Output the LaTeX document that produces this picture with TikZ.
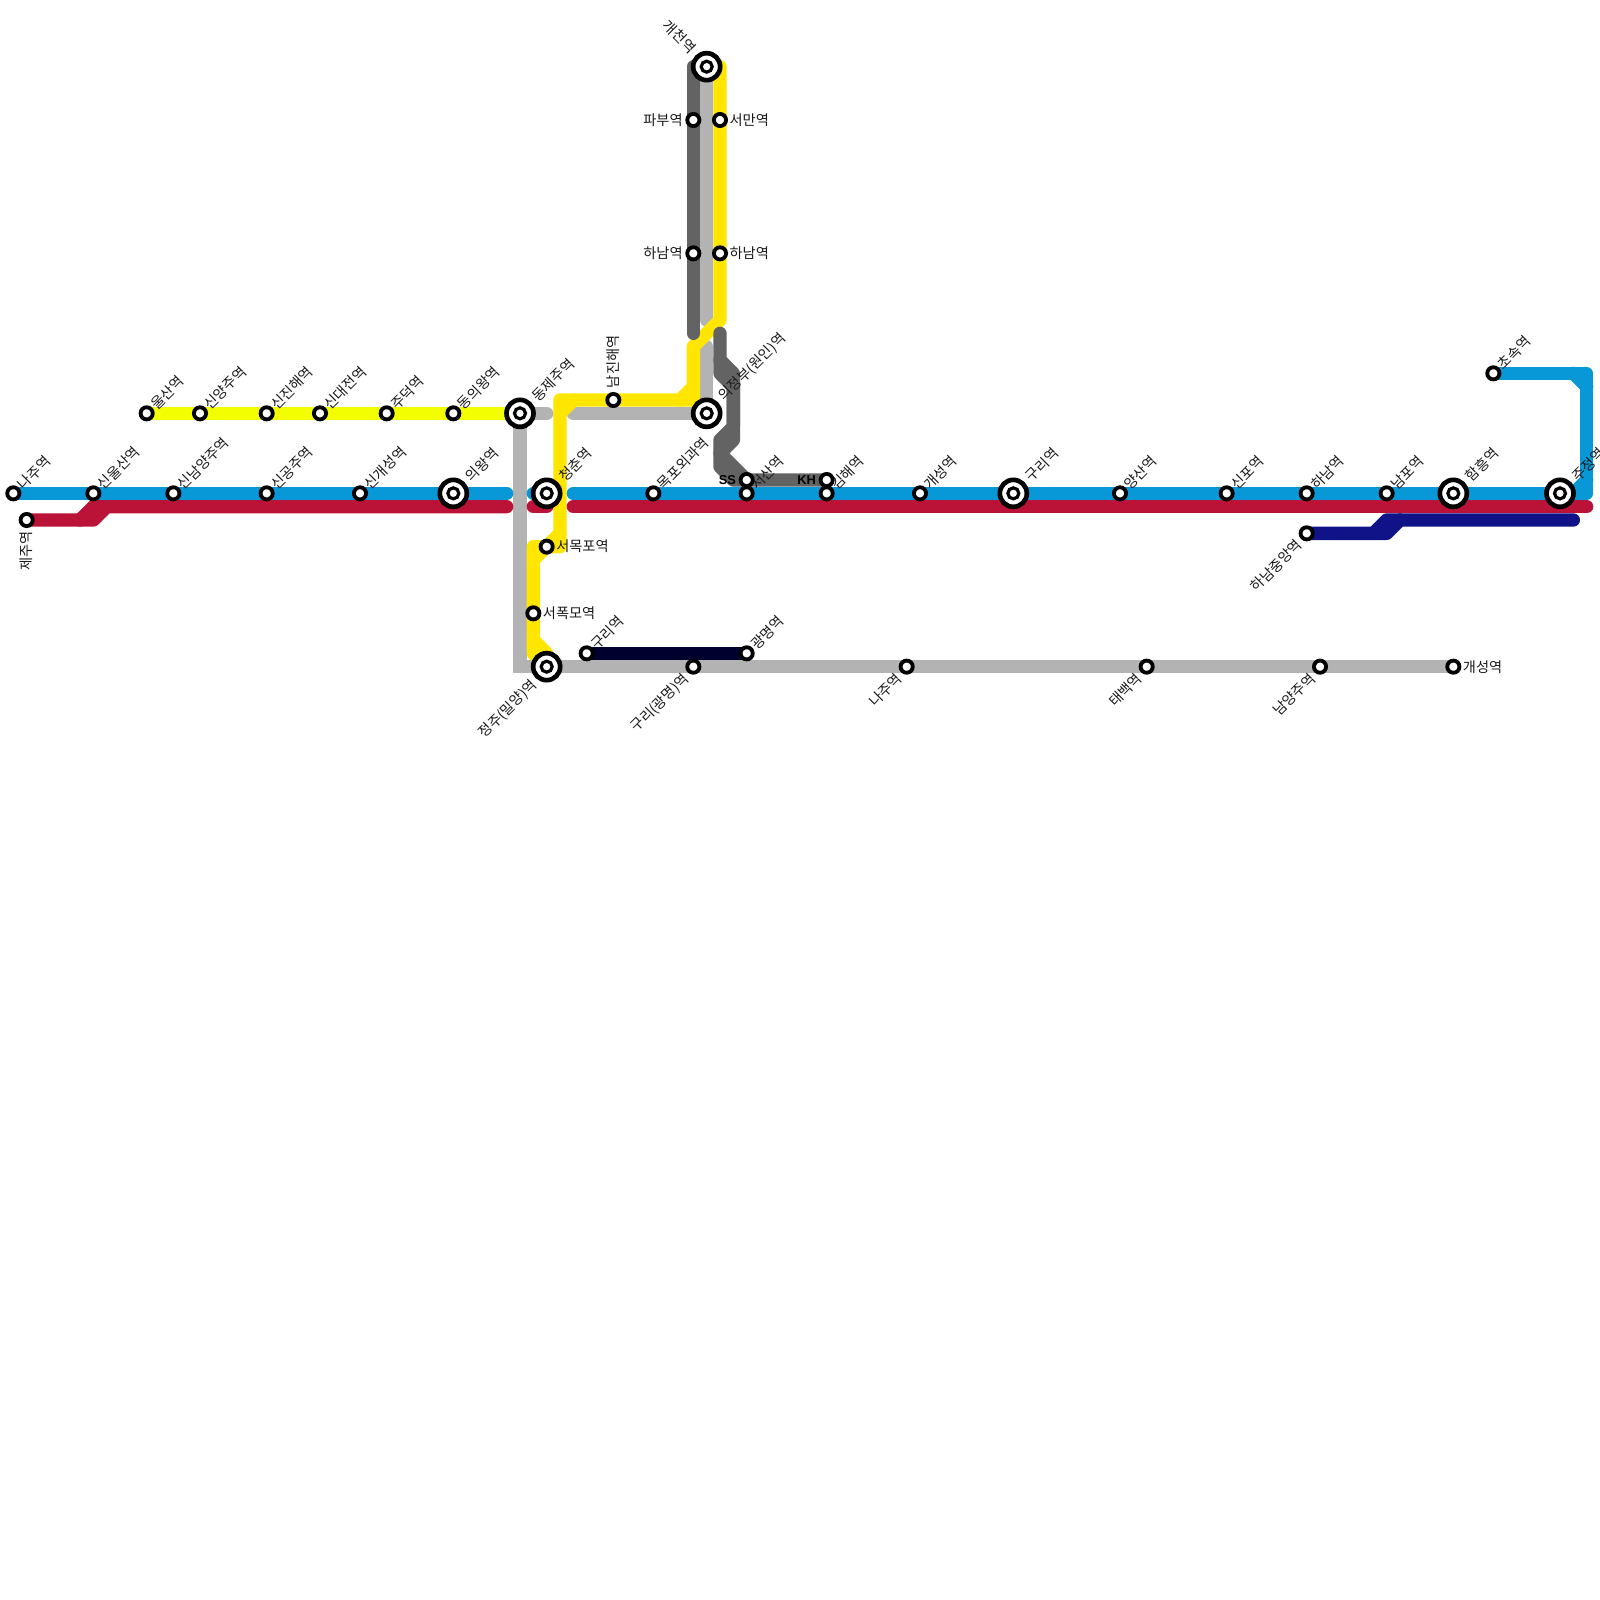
\documentclass[tikz,border=0pt]{standalone}
\usepackage{fontspec}
\setmainfont{Noto Sans CJK KR}
\newfontfamily\latinbold[BoldFont={Liberation Sans Bold}]{Liberation Sans}
\definecolor{cBlue}{HTML}{0898D8}
\definecolor{cRed}{HTML}{BB1238}
\definecolor{cLime}{HTML}{F3FF00}
\definecolor{cYellow}{HTML}{FFE600}
\definecolor{cGrey}{HTML}{B3B3B3}
\definecolor{cDark}{HTML}{636363}
\definecolor{cNavy}{HTML}{101288}
\definecolor{cInk}{HTML}{00002F}
\tikzset{
  metro/.style={line width=4mm,line cap=round,line join=round},
  stn/.style={circle,draw=black,fill=white,outer sep=0pt,line width=1.15mm,minimum size=3.65mm,inner sep=0pt},
  hubout/.style={circle,draw=black,fill=white,outer sep=0pt,line width=1.4mm,minimum size=8.1mm,inner sep=0pt},
  hubin/.style={circle,draw=black,fill=white,outer sep=0pt,line width=.95mm,minimum size=3.3mm,inner sep=0pt},
  txt/.style={inner sep=0pt,outer sep=0pt,font=\fontsize{12.15pt}{14pt}\selectfont,text=black!90},
  lne/.style={txt,rotate=45,anchor=west},
  lsw/.style={txt,rotate=45,anchor=east},
  lnw/.style={txt,rotate=-45,anchor=east},
  lup/.style={txt,rotate=90,anchor=west},
  ldn/.style={txt,rotate=90,anchor=east},
  lr/.style={txt,anchor=west},
  ll/.style={txt,anchor=east},
  code/.style={inner sep=0pt,outer sep=0pt,anchor=east,font=\latinbold\bfseries\fontsize{11pt}{12pt}\selectfont},
}
\newcommand\lab[4]{\node[#1] (lab#2) at ([shift={#3}]#2) {#4};}
\newcommand\stnmark[1]{\node[stn] (st#1) at (#1) {};}
\newcommand\hubmark[1]{\node[hubout] (st#1) at (#1) {}; \node[hubin] (in#1) at (#1) {};}
\begin{document}
\begin{tikzpicture}[x=4mm,y=-4mm]
\useasboundingbox (0,0) rectangle (120,120);
\clip (0,0) rectangle (120,120);
\fill[white] (0,0) rectangle (120,120);
% stations: coordinates
\foreach \n/\x/\y in {
 naju/1/37,sinulsan/7/37,sinnamyang/13/37,singongju/20/37,singaeseong/27/37,uiwang/34/37,
 cheongchun/41/37,mokpo/49/37,seosan/56/37,gimhae/62/37,gaeseong/69/37,gurib/76/37,yangsan/84/37,
 sinpo/92/37,hanamb/98/37,nampo/104/37,hamheung/109/37,jujeong/117/37,choso/112/28,
 jeju/2/39,hanamj/98/40,
 ulsan/11/31,sinyangju/15/31,sinjinhae/20/31,sindaejeon/24/31,judeok/29/31,donguiwang/34/31,dongjeju/39/31,
 namjinhae/46/30,uijeongbu/53/31,gaecheon/53/5,pabu/52/9,hanamd/52/19,seoman/54/9,hanamy/54/19,
 sshalt/56/36,khhalt/62/36,seomokpo/41/41,seopok/40/46,jeongju/41/50,guri/44/49,gwangmyeong/56/49,
 gurigm/52/50,najug/68/50,taebaek/86/50,namyangju/99/50,gaeseongg/109/50}
 {\coordinate (\n) at (\x,\y);}
% light grey lines
\begin{scope}[metro,cGrey]
 \draw (dongjeju) -- (41,31);
 \draw (43,31) -- (uijeongbu) -- (53,26);
 \draw (gaecheon) -- (53,24);
 \draw[line join=miter] (dongjeju) -- (39,50) -- (gaeseongg);
\end{scope}
% yellow
\begin{scope}[metro,cYellow]
 \draw (54,5) -- (hanamy) -- (54,24) -- (52,26) -- (52,30) -- (namjinhae) -- (42,30) -- (42,41) -- (seomokpo) -- (40,41) -- (seopok) -- (40,49) -- (jeongju);
 \draw (52,29) -- (51,30);
 \draw (43,30) -- (42,31);
 \draw (42,40) -- (40,42);
 \draw (40,48) -- (41,49) -- (jeongju);
\end{scope}
% dark grey lines
\begin{scope}[metro,cDark]
 \draw (52,5) -- (pabu) -- (hanamd) -- (52,25);
 \draw (54,25) -- (54,28) -- (55,29) -- (55,32) -- (54,33) -- (54,35) -- (55,36) -- (sshalt) -- (khhalt);
 \draw (54,27) -- (55,28) -- (55,33) -- (54,34) -- (56,36);
\end{scope}
% blue
\begin{scope}[metro,cBlue]
 \draw (naju) -- (38,37);
 \draw (40,37) -- (cheongchun);
 \draw (43,37) -- (119,37) -- (119,28) -- (choso);
 \draw (118,28) -- (119,29);
 \draw (119,36) -- (118,37);
\end{scope}
% red
\begin{scope}[metro,cRed]
 \draw (jeju) -- (7,39) -- (8,38) -- (38,38);
 \draw (6,39) -- (7,38) -- (8,38);
 \draw (40,38) -- (41,38);
 \draw (43,38) -- (119,38);
\end{scope}
% dark blue
\begin{scope}[metro,cNavy]
 \draw (hanamj) -- (104,40) -- (105,39) -- (118,39);
 \draw (103,40) -- (104,39) -- (105,39);
\end{scope}
% ink
\draw[metro,cInk] (guri) -- (gwangmyeong);
% lime
\draw[metro,cLime] (ulsan) -- (dongjeju);
% labels
\lab{lne}{naju}{(.5,-.5)}{나주역}
\lab{lne}{sinulsan}{(.5,-.5)}{신울산역}
\lab{lne}{sinnamyang}{(.5,-.5)}{신남양주역}
\lab{lne}{singongju}{(.5,-.5)}{신공주역}
\lab{lne}{singaeseong}{(.5,-.5)}{신개성역}
\lab{lne}{uiwang}{(1.1,-1.1)}{의왕역}
\lab{lne}{cheongchun}{(1.1,-1.1)}{청춘역}
\lab{lne}{mokpo}{(.5,-.5)}{목포외과역}
\lab{lne}{seosan}{(.5,-.5)}{서산역}
\lab{lne}{gimhae}{(.5,-.5)}{김해역}
\lab{lne}{gaeseong}{(.5,-.5)}{개성역}
\lab{lne}{gurib}{(1.1,-1.1)}{구리역}
\lab{lne}{yangsan}{(.5,-.5)}{양산역}
\lab{lne}{sinpo}{(.5,-.5)}{신포역}
\lab{lne}{hanamb}{(.5,-.5)}{하남역}
\lab{lne}{nampo}{(.5,-.5)}{남포역}
\lab{lne}{hamheung}{(1.1,-1.1)}{함흥역}
\lab{lne}{jujeong}{(1.1,-1.1)}{주정역}
\lab{lne}{choso}{(.5,-.5)}{초속역}
\lab{ldn}{jeju}{(0,.85)}{제주역}
\lab{lsw}{hanamj}{(-.55,.7)}{하남중앙역}
\lab{lne}{ulsan}{(.5,-.5)}{울산역}
\lab{lne}{sinyangju}{(.5,-.5)}{신양주역}
\lab{lne}{sinjinhae}{(.5,-.5)}{신진해역}
\lab{lne}{sindaejeon}{(.5,-.5)}{신대전역}
\lab{lne}{judeok}{(.5,-.5)}{주덕역}
\lab{lne}{donguiwang}{(.5,-.5)}{동의왕역}
\lab{lne}{dongjeju}{(1.1,-1.1)}{동제주역}
\lab{lup}{namjinhae}{(0,-.9)}{남진해역}
\lab{lne}{uijeongbu}{(1.1,-1.1)}{의정부(원인)역}
\lab{lnw}{gaecheon}{(-1,-1.2)}{개천역}
\lab{ll}{pabu}{(-.8,0)}{파부역}
\lab{ll}{hanamd}{(-.8,0)}{하남역}
\lab{lr}{seoman}{(.72,0)}{서만역}
\lab{lr}{hanamy}{(.72,0)}{하남역}
\lab{lr}{seomokpo}{(.72,0)}{서목포역}
\lab{lr}{seopok}{(.72,0)}{서폭모역}
\lab{lsw}{jeongju}{(-.9,1.2)}{정주(밀양)역}
\lab{lne}{guri}{(.5,-.5)}{구리역}
\lab{lne}{gwangmyeong}{(.5,-.5)}{광명역}
\lab{lsw}{gurigm}{(-.5,.75)}{구리(광명)역}
\lab{lsw}{najug}{(-.55,.7)}{나주역}
\lab{lsw}{taebaek}{(-.55,.7)}{태백역}
\lab{lsw}{namyangju}{(-.55,.7)}{남양주역}
\lab{lr}{gaeseongg}{(.72,0)}{개성역}
\lab{code}{sshalt}{(-.8,0)}{SS}
\lab{code}{khhalt}{(-.8,0)}{KH}
% station marks
\foreach \s in {naju,sinulsan,sinnamyang,singongju,singaeseong,mokpo,seosan,gimhae,gaeseong,yangsan,sinpo,hanamb,nampo,choso,jeju,hanamj,ulsan,sinyangju,sinjinhae,sindaejeon,judeok,donguiwang,namjinhae,pabu,hanamd,seoman,hanamy,sshalt,khhalt,seomokpo,seopok,guri,gwangmyeong,gurigm,najug,taebaek,namyangju,gaeseongg}{\stnmark{\s}}
\foreach \s in {uiwang,cheongchun,gurib,hamheung,jujeong,dongjeju,uijeongbu,gaecheon,jeongju}{\hubmark{\s}}
\end{tikzpicture}
\end{document}
